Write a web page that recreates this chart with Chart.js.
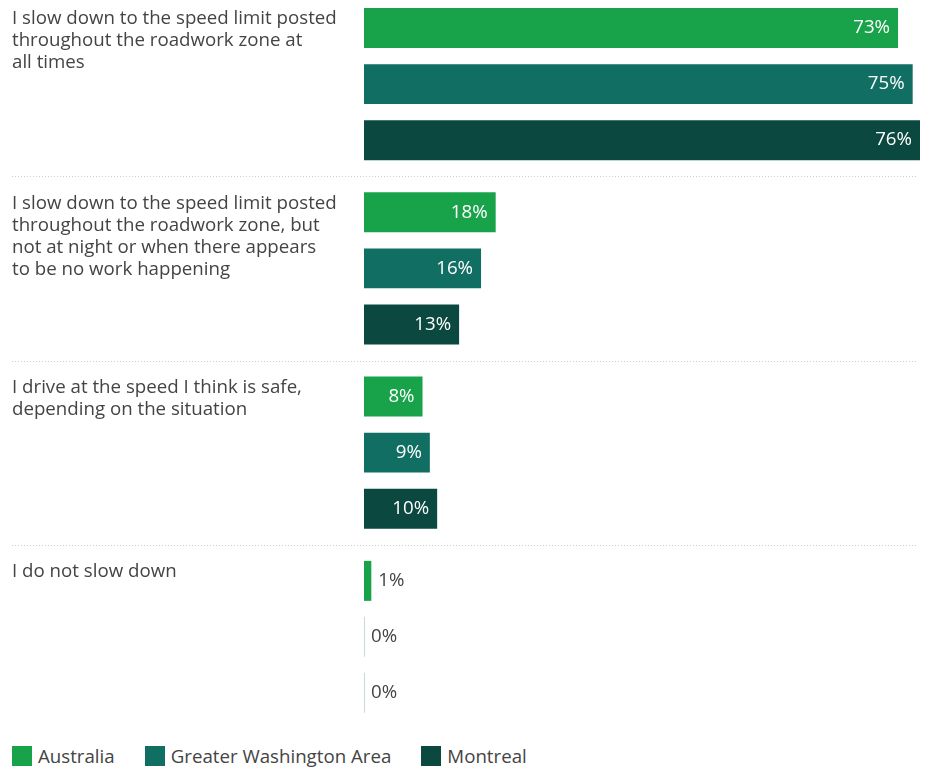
<!DOCTYPE html>
<html>
<head>
<meta charset="utf-8">
<script src="https://cdn.jsdelivr.net/npm/chart.js@4/dist/chart.umd.min.js"></script>
<style>
  html, body { margin: 0; padding: 0; background: #fff; overflow: hidden; }
  body { width: 927px; height: 767px; position: relative; font-family: "Open Sans", sans-serif; }
  #wrap { position: absolute; left: 0; top: -8px; width: 927px; height: 740px; }
  #legend { position: absolute; left: 12px; top: 743px; display: flex; align-items: center; font-size: 18.7px; color: #444; }
  #legend .item { display: flex; align-items: center; margin-right: 30px; }
  #legend .box { width: 20px; height: 20px; margin-right: 6px; }
</style>
</head>
<body>
<div id="wrap"><canvas id="chart" width="927" height="740"></canvas></div>
<div id="legend"></div>
<script>
// Data
const categories = [
  ["I slow down to the speed limit posted", "throughout the roadwork zone at", "all times"],
  ["I slow down to the speed limit posted", "throughout the roadwork zone, but", "not at night or when there appears", "to be no work happening"],
  ["I drive at the speed I think is safe,", "depending on the situation"],
  ["I do not slow down"]
];
const seriesNames = ["Australia", "Greater Washington Area", "Montreal"];
const australia = [73, 18, 8, 1];
const washington = [75, 16, 9, 0];
const montreal = [76, 13, 10, 0];
const seriesColors = ["#18a34a", "#116e63", "#0b4840"];

const textColor = "#444";
const fontFamily = '"Open Sans", sans-serif';

// draws category labels, separators and value labels
const decorPlugin = {
  id: "decor",
  afterDatasetsDraw(chart) {
    const ctx = chart.ctx;
    const yScale = chart.scales.y;
    ctx.save();

    // dotted separators between categories
    ctx.strokeStyle = "#cfcfcf";
    ctx.lineWidth = 1;
    ctx.setLineDash([1, 2]);
    for (let i = 0; i < categories.length - 1; i++) {
      const y = Math.round((yScale.getPixelForValue(i) + yScale.getPixelForValue(i + 1)) / 2) + 0.5;
      ctx.beginPath();
      ctx.moveTo(12, y);
      ctx.lineTo(918, y);
      ctx.stroke();
    }
    ctx.setLineDash([]);

    // category labels, top aligned with first bar
    const firstMeta = chart.getDatasetMeta(0);
    ctx.font = "18.7px " + fontFamily;
    ctx.fillStyle = textColor;
    ctx.textBaseline = "middle";
    ctx.textAlign = "left";
    categories.forEach(function (lines, i) {
      const bar = firstMeta.data[i];
      const top = bar.y - bar.height / 2;
      lines.forEach(function (line, j) {
        ctx.fillText(line, 12, top + 11 + j * 22);
      });
    });

    // value labels
    chart.data.datasets.forEach(function (ds, di) {
      const meta = chart.getDatasetMeta(di);
      meta.data.forEach(function (bar, i) {
        const v = ds.data[i];
        const txt = v + "%";
        const w = ctx.measureText(txt).width;
        const top = bar.y - bar.height / 2;
        if (v === 0) {
          ctx.strokeStyle = "#c6dbd6";
          ctx.beginPath();
          ctx.moveTo(Math.round(bar.base) + 0.5, top);
          ctx.lineTo(Math.round(bar.base) + 0.5, top + bar.height);
          ctx.stroke();
        }
        if (bar.x - bar.base > w + 16) {
          ctx.fillStyle = "#fff";
          ctx.textAlign = "right";
          ctx.fillText(txt, bar.x - 8, bar.y);
        } else {
          ctx.fillStyle = textColor;
          ctx.textAlign = "left";
          ctx.fillText(txt, bar.x + 7, bar.y);
        }
      });
    });
    ctx.restore();
  }
};

const seriesData = [australia, washington, montreal];

new Chart(document.getElementById("chart").getContext("2d"), {
  type: "bar",
  data: {
    labels: categories,
    datasets: seriesNames.map(function (name, i) {
      return {
        label: name,
        data: seriesData[i],
        backgroundColor: seriesColors[i],
        borderWidth: 0,
        categoryPercentage: 0.912,
        barPercentage: 0.714
      };
    })
  },
  options: {
    indexAxis: "y",
    responsive: false,
    animation: false,
    layout: { padding: { left: 364, right: 7, top: 0, bottom: 3 } },
    scales: {
      x: { display: false, min: 0, max: 76 },
      y: { display: false }
    },
    plugins: {
      legend: { display: false },
      tooltip: { enabled: false }
    }
  },
  plugins: [decorPlugin]
});

// HTML legend
const legendEl = document.getElementById("legend");
seriesNames.forEach(function (name, i) {
  const item = document.createElement("div");
  item.className = "item";
  const box = document.createElement("span");
  box.className = "box";
  box.style.background = seriesColors[i];
  const label = document.createElement("span");
  label.textContent = name;
  item.appendChild(box);
  item.appendChild(label);
  legendEl.appendChild(item);
});
</script>
</body>
</html>
